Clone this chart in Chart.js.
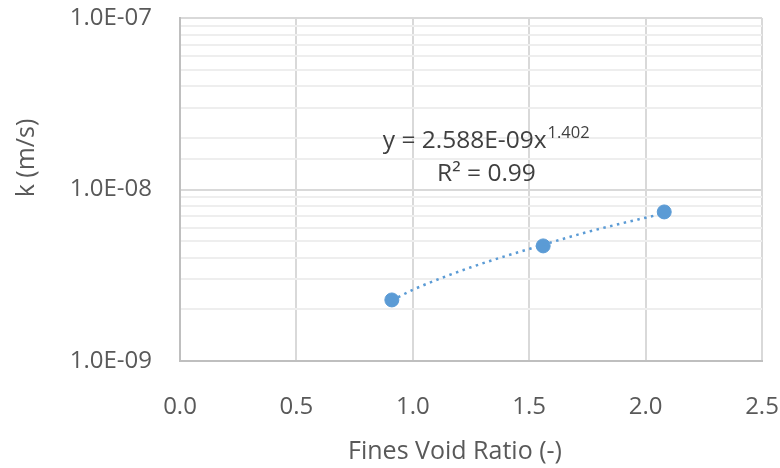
<!DOCTYPE html>
<html>
<head>
<meta charset="utf-8">
<script src="https://cdn.jsdelivr.net/npm/chart.js@4.4.1/dist/chart.umd.min.js"></script>
<style>
  html, body { margin: 0; padding: 0; background: #ffffff; }
  #wrap { width: 780px; height: 468px; position: relative; }
</style>
</head>
<body>
<div id="wrap"><canvas id="grafico"></canvas></div>
<script>
// Datos medidos (relación de vacíos de finos vs permeabilidad)
const relacionVacios = [0.91, 1.56, 2.08];
const permeabilidad = [2.27e-9, 4.69e-9, 7.4e-9];

// Línea de tendencia potencial
const tendenciaX = [0.91, 1.0, 1.25, 1.5, 1.75, 2.0, 2.08];
const tendenciaY = [2.25e-9, 2.6e-9, 3.52e-9, 4.5e-9, 5.65e-9, 6.85e-9, 7.25e-9];

// Textos de la ecuación
const ecuacionTexto = 'y = 2.588E-09x';
const ecuacionExponente = '1.402';
const r2Texto = 'R² = 0.99';

const tituloX = 'Fines Void Ratio (-)';
const tituloY = 'k (m/s)';

const FUENTE = '"Open Sans", sans-serif';
const AZUL = '#5b9bd5';

const puntos = relacionVacios.map((x, i) => ({ x: x, y: permeabilidad[i] }));
const tendencia = tendenciaX.map((x, i) => ({ x: x, y: tendenciaY[i] }));

// Plugin para la ecuación y los títulos de ejes
const textosPlugin = {
    id: 'textos',
    afterDraw(chart) {
        const ctx = chart.ctx;
        const sx = chart.scales.x;
        const sy = chart.scales.y;
        const area = chart.chartArea;
        ctx.save();
        ctx.fillStyle = '#404040';
        ctx.textBaseline = 'alphabetic';
        ctx.textAlign = 'left';

        // ecuación con exponente
        ctx.font = '24.5px ' + FUENTE;
        const ex = sx.getPixelForValue(0.871);
        const ey = sy.getPixelForValue(1.75e-8);
        ctx.fillText(ecuacionTexto, ex, ey);
        const w = ctx.measureText(ecuacionTexto).width;
        ctx.font = '16.5px ' + FUENTE;
        ctx.fillText(ecuacionExponente, ex + w + 1, ey - 10);

        ctx.font = '24.5px ' + FUENTE;
        ctx.fillText(r2Texto, sx.getPixelForValue(1.104), sy.getPixelForValue(1.12e-8));

        // títulos de ejes
        ctx.fillStyle = '#595959';
        ctx.textAlign = 'center';
        ctx.textBaseline = 'middle';
        ctx.font = '25px ' + FUENTE;
        ctx.fillText(tituloX, 455, 452);

        ctx.translate(27, 158);
        ctx.rotate(-Math.PI / 2);
        ctx.fillText(tituloY, 0, 0);
        ctx.restore();
    }
};

function esDecada(v) {
    const l = Math.log10(v);
    return Math.abs(l - Math.round(l)) < 1e-6;
}

// quitar los márgenes que Chart.js reserva para las etiquetas extremas
function sinMargen(s) {
    s.paddingTop = 0;
    s.paddingBottom = 0;
    s.paddingLeft = 0;
    s.paddingRight = 0;
}

new Chart(document.getElementById('grafico'), {
    type: 'scatter',
    data: {
        datasets: [
            {
                label: 'tendencia',
                data: tendencia,
                showLine: true,
                borderColor: AZUL,
                borderWidth: 2.5,
                borderDash: [2.5, 4.5],
                pointRadius: 0,
                cubicInterpolationMode: 'monotone',
                fill: false
            },
            {
                label: 'k',
                data: puntos,
                backgroundColor: AZUL,
                borderColor: AZUL,
                pointRadius: 7,
                pointHoverRadius: 7
            }
        ]
    },
    options: {
        responsive: true,
        maintainAspectRatio: false,
        animation: false,
        layout: { padding: { top: 18, right: 18, left: 0, bottom: 0 } },
        plugins: {
            legend: { display: false },
            tooltip: { enabled: false }
        },
        scales: {
            x: {
                type: 'linear',
                min: 0,
                max: 2.5,
                afterFit: s => { s.height = 107; sinMargen(s); },
                border: { color: '#bfbfbf', width: 2 },
                grid: { color: '#d9d9d9', lineWidth: 2, drawTicks: false },
                ticks: {
                    stepSize: 0.5,
                    padding: 32,
                    color: '#595959',
                    font: { family: FUENTE, size: 24 },
                    callback: v => v.toFixed(1)
                }
            },
            y: {
                type: 'logarithmic',
                min: 1e-9,
                max: 1e-7,
                afterFit: s => { s.width = 180; sinMargen(s); },
                border: { color: '#bfbfbf', width: 2 },
                grid: {
                    drawTicks: false,
                    color: c => esDecada(c.tick.value) ? '#d9d9d9' : '#eeeeee',
                    lineWidth: 2
                },
                ticks: {
                    autoSkip: false,
                    padding: 28,
                    color: '#595959',
                    font: { family: FUENTE, size: 24 },
                    callback: v => esDecada(v) ? '1.0E-' + String(-Math.round(Math.log10(v))).padStart(2, '0') : ''
                }
            }
        }
    },
    plugins: [textosPlugin]
});
</script>
</body>
</html>
